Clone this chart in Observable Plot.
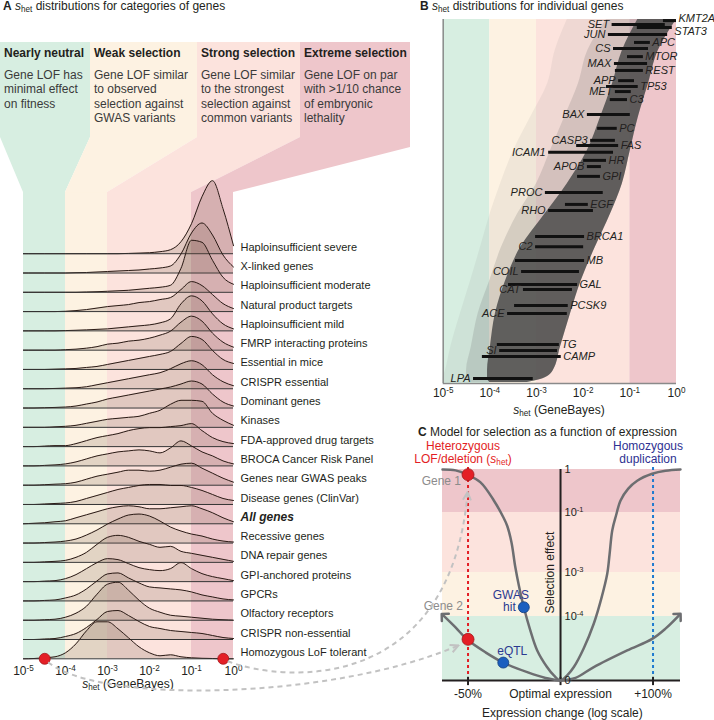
<!DOCTYPE html>
<html><head><meta charset="utf-8">
<script src="https://cdn.jsdelivr.net/npm/d3@7"></script>
<script src="https://cdn.jsdelivr.net/npm/@observablehq/plot@0.6"></script>
<style>
html,body{margin:0;padding:0;background:#fff;}
#fig{position:relative;width:714px;height:720px;overflow:hidden;font-family:"Liberation Sans",Arial,Helvetica,sans-serif;color:#231f20;}
#fig .t{position:absolute;white-space:nowrap;font-size:12px;line-height:14px;z-index:2;}
#fig sub{font-size:0.68em;vertical-align:-0.3em;line-height:0;}
#fig .hd{font-weight:bold;}
#fig .bd{color:#3a3a3a;line-height:14.4px;}
</style></head>
<body><div id="fig"></div>
<script>
// ================= DATA =================
const bandNames = ["Nearly neutral","Weak selection","Strong selection","Extreme selection"];
const bandDescriptions = [
  ["Gene LOF has","minimal effect","on fitness"],
  ["Gene LOF similar","to observed","selection against","GWAS variants"],
  ["Gene LOF similar","to the strongest","selection against","common variants"],
  ["Gene LOF on par","with >1/10 chance","of embryonic","lethality"]
];
const bandLogStart = [-5,-4,-3,-1];
const bandLogEnd   = [-4,-3,-1,0];
const bandColors   = ["#d7eee1","#fdf2e2","#fce3dd","#eec6cb"];

// Panel A: ridgelines (height of each density above its baseline)
const categories = ["Haploinsufficient severe","X-linked genes","Haploinsufficient moderate","Natural product targets","Haploinsufficient mild","FMRP interacting proteins","Essential in mice","CRISPR essential","Dominant genes","Kinases","FDA-approved drug targets","BROCA Cancer Risk Panel","Genes near GWAS peaks","Disease genes (ClinVar)","All genes","Recessive genes","DNA repair genes","GPI-anchored proteins","GPCRs","Olfactory receptors","CRISPR non-essential","Homozygous LoF tolerant"];
const logGrid = [-5,-4.75,-4.5,-4.25,-4,-3.75,-3.5,-3.25,-3,-2.75,-2.5,-2.25,-2,-1.75,-1.5,-1.25,-1,-0.75,-0.5,-0.25,0];
const ridgeHeights = [
  [0,0,0,0,0,0,0,0,0,0,0.3,0.6,1,2,4,12,30,57,73,45,8],
  [0,0,0,0,0,0.3,0.5,1,1.5,2,2.5,3,4,5,7,19,40,50,38,18,6],
  [0,0,0,0,0,0,0.3,0.6,1,1.5,2,3,4,5,7,24,52,50,32,15,8],
  [0,0,0,0,0.3,1,2,3.5,5,6,7,9,10,12,14,22,30,26,17,8,3],
  [0,0,0,0,0.3,0.6,1,1.5,2,3,4,5,6,8,12,27,35,30,17,7,2],
  [0,0,0,0,0.5,1,2,3.5,6,7,9,10,12,15,19,28,34,29,17,8,3],
  [0,0,0,0.3,0.6,1,2,3,5,7,9,11,13,15,18,26,33,30,19,10,6],
  [0,0,0,0.3,0.6,1,2,4,6,8,10,12,14,16,20,25,28,24,14,7,3],
  [0,0,0.3,0.6,1,2,4,6,9,11,13,15,17,19,21,24,27,24,14,6,2],
  [0,0,0,0.5,1,2,4,6,8,9,10,11,14,17,23,27,27,26,14,7,2],
  [0,0,0.5,1,1,3,6,9,11,13,16,18,19,19,20,21,23,16,9,5,3],
  [0,0,0.5,1,2,4,7,10,12,14,15,16,15,13,18,25,20,14,10,5,2],
  [0,0,0.5,1,1.5,3,6,9,11,13,15,15,14,15,18,21,22,17,12,7,3],
  [0,0,0.5,1,1.5,3,6,9,12,15,17,19,20,20,19,19,17,14,10,6,4],
  [0,0.5,1,2,3,6,9,12,15,17,18,17,15,15,16,17,18,15,11,6,2],
  [0,0,0.5,1,2,4,8,13,19,24,28,29,27,22,16,12,9,7,4,2,1],
  [0,0,0.5,1,2,5,10,18,25,27,25,21,18,15,16,11,9,7,5,3,1],
  [0,0,0.5,1,3,7,13,19,23,22,18,14,12,11,13,19,13,8,5,3,1],
  [0,0,0.5,1,3,6,12,20,27,28,23,18,14,13,12,11,9,6,4,2,1],
  [0,0,0.5,1,3,7,14,26,36,38,30,20,12,8,5,4,3,2,1,0.5,0],
  [0,0,0.5,1,3,6,12,20,28,29,24,18,13,11,9,8,7,6,4,2,1],
  [0,0.3,1,2,6,15,28,37,37,30,21,12,6,3,4,2,1,0.5,0.3,0,0]
];
const axisTicksLog = [-5,-4,-3,-2,-1,0];
const exampleGenes = ["Gene 1","Gene 2"];
const exampleShetA = [0.57, 3.2e-5];

// Panel B: individual genes (log10 s_het interval, percentile rank of gene)
const geneNames = ["KMT2A","SET","STAT3","JUN","APC","CS","MTOR","MAX","REST","APP","TP53","MET","C3","BAX","PC","CASP3","FAS","ICAM1","HR","APOB","GPI","PROC","EGF","RHO","BRCA1","C2","MB","COIL","GAL","CAT","PCSK9","ACE","TG","SI","CAMP","LPA"];
const geneLo = [-0.28,-1.38,-0.84,-1.46,-0.90,-1.35,-1.05,-1.33,-1.31,-1.24,-1.50,-1.31,-1.42,-1.91,-1.69,-1.84,-2.14,-2.74,-1.99,-1.91,-2.12,-2.81,-2.38,-2.74,-3.02,-3.02,-3.45,-3.32,-3.60,-3.28,-3.47,-3.62,-3.84,-3.79,-4.16,-4.35];
const geneHi = [0,-0.24,-0.09,-0.19,-0.56,-0.60,-0.71,-0.62,-0.71,-0.90,-0.82,-0.97,-1.05,-0.99,-1.27,-1.31,-1.24,-1.35,-1.50,-1.61,-1.63,-1.57,-1.89,-1.78,-1.97,-1.99,-1.97,-2.08,-2.12,-2.23,-2.32,-2.34,-2.51,-2.55,-2.47,-3.07];
const geneRank = [99.7,98.6,97.8,95.9,93.7,92.0,89.8,87.9,86.0,83.2,81.6,80.2,78.0,73.9,70.1,66.8,65.4,63.5,61.3,59.6,56.9,52.5,49.2,47.5,40.4,37.6,33.8,30.8,27.2,25.8,21.4,19.2,10.7,9.1,7.4,1.4];
const geneSide = ["right","left","right","left","right","left","right","left","right","left","right","left","right","left","right","left","right","left","right","left","right","left","right","left","right","left","right","left","right","left","right","left","right","left","right","left"];
const geneLabelRank = [100.3,98.6,96.6,95.9,93.7,92.0,89.8,87.9,86.0,83.2,81.6,80.2,78.0,73.9,70.1,66.8,65.4,63.5,61.3,59.6,56.9,52.5,49.2,47.5,40.4,37.6,33.8,30.8,27.2,25.8,21.4,19.2,10.7,9.1,7.4,1.4];
// envelope of all genes' intervals (log10 s_het) by rank
const cloudRank      = [0.3,1.4,3.6,9.9,19.2,28.3,37.4,46.7,54.9,64,73.1,82.4,91.5,100];
const cloudRight     = [-3.2,-2.85,-2.64,-2.49,-2.27,-2.04,-1.74,-1.41,-1.16,-0.99,-0.82,-0.6,-0.39,0];
const cloudCoreLeft  = [-4.0,-4.05,-4.05,-3.99,-3.88,-3.66,-3.34,-2.81,-2.34,-1.91,-1.63,-1.37,-1.16,-0.83];
const cloudMidLeft   = [-4.4,-4.5,-4.5,-4.4,-4.25,-4.0,-3.75,-3.4,-3.0,-2.7,-2.4,-2.1,-1.9,-1.5];
const cloudFaintLeft = [-5,-5,-4.95,-4.84,-4.63,-4.41,-4.2,-3.99,-3.77,-3.49,-3.13,-2.76,-2.6,-2.34];

// Panel C: model (x = log2 expression change, y = log10 selection; -5 stands for 0)
const g1Log2  = [-1.276,-1.135,-1.009,-0.865,-0.721,-0.62,-0.576,-0.53,-0.49,-0.45,-0.397,-0.33,-0.252,-0.15,-0.072,0,0.072,0.144,0.25,0.36,0.44,0.505,0.53,0.559,0.6,0.649,0.73,0.829,0.991,1.135,1.297];
const g1Level = [0,-0.02,-0.12,-0.3,-0.72,-1.15,-1.45,-2.0,-2.8,-3.3,-3.79,-4.2,-4.53,-4.78,-4.92,-5,-4.92,-4.79,-4.5,-4.11,-3.6,-3.03,-2.4,-1.6,-1.1,-0.72,-0.45,-0.26,-0.1,-0.03,0];
const g2Log2  = [-1.265,-1.135,-1.009,-0.811,-0.619,-0.36,-0.162,0,0.162,0.36,0.721,0.991,1.135,1.279];
const g2Level = [-3.98,-4.17,-4.36,-4.56,-4.72,-4.87,-4.96,-5,-4.96,-4.79,-4.53,-4.35,-4.19,-3.98];
const exampleSelC = [0.76, 4.4e-5];
const variantNames = ["GWAS hit","eQTL"];
const variantLog2  = [-0.397,-0.619];
const variantLevel = [-3.79,-4.72];
const yTicksC = [0,-1,-3,-4,-5];
const yTickLabelsC = ["1","10^-1","10^-3","10^-4","0"];
const xTicksC = [-1,0,1];
const xTickLabelsC = ["-50%","Optimal expression","+100%"];

// ================= HELPERS =================
const NS = "http://www.w3.org/2000/svg";
const fig = document.getElementById("fig");
const FONT = '"Liberation Sans",Arial,Helvetica,sans-serif';
const plotStyle = {background:"transparent", overflow:"visible", fontFamily:FONT, color:"#231f20"};
function addDiv(html, left, top, cls, extra){
  const d = document.createElement("div");
  d.className = "t " + (cls||"");
  d.innerHTML = html;
  d.style.left = left + "px"; d.style.top = top + "px";
  if (extra) Object.assign(d.style, extra);
  fig.appendChild(d); return d;
}
function centerDiv(html, cx, top, extra){
  return addDiv(html, cx-150, top, "", Object.assign({width:"300px", textAlign:"center"}, extra||{}));
}
function placeSvg(svg, left, top, z){
  svg.style.position = "absolute"; svg.style.left = left+"px"; svg.style.top = top+"px";
  svg.style.zIndex = z; fig.appendChild(svg);
}
function supify(svg){
  svg.querySelectorAll("text").forEach(t=>{
    const m = /^10\^(-?\d+)$/.exec(t.textContent);
    if (!m) return;
    t.textContent = "10";
    const s = document.createElementNS(NS,"tspan");
    s.setAttribute("dy","-0.5em"); s.setAttribute("font-size","0.68em");
    s.textContent = m[1];
    t.appendChild(s);
  });
}

// ================= PANEL A =================
const A_LEFT = 0, A_TOP = 150;
const nRows = categories.length;
const rowGap = 19.29;
const baseOf = i => (nRows-1-i)*rowGap;
const marksA = [];
bandLogStart.forEach((s,k)=>marksA.push(Plot.rect([k],{x1:s,x2:bandLogEnd[k],y1:0,y2:466,fill:bandColors[k]})));
categories.forEach((c,i)=>{
  const b = baseOf(i);
  const pts = logGrid.map((L,j)=>({L, b, t: b + ridgeHeights[i][j]}));
  marksA.push(Plot.areaY(pts,{x:"L",y1:"b",y2:"t",fill:"#6b4f3f",fillOpacity:0.18,curve:"monotone-x"}));
  marksA.push(Plot.lineY(pts,{x:"L",y:"t",stroke:"#2b1b16",strokeWidth:1,curve:"monotone-x"}));
  marksA.push(Plot.ruleY([b],{x1:-5,x2:0,stroke:"#333",strokeWidth:1}));
});
const rowIdx = d3.range(nRows);
marksA.push(Plot.text(rowIdx.filter(i=>categories[i]!=="All genes"),{x:0,y:i=>baseOf(i),text:i=>categories[i],dx:7,dy:-6.5,textAnchor:"start",fontSize:11}));
marksA.push(Plot.text(rowIdx.filter(i=>categories[i]==="All genes"),{x:0,y:i=>baseOf(i),text:i=>categories[i],dx:7,dy:-6.5,textAnchor:"start",fontSize:12,fontWeight:"bold",fontStyle:"italic"}));
marksA.push(Plot.dot(exampleShetA,{x:d=>Math.log10(d),y:0,r:5.5,fill:"#e41f26",stroke:"#a3161b",strokeWidth:0.8}));
marksA.push(Plot.text(axisTicksLog,{x:d=>d,y:0,dy:12.5,text:d=>"10^"+d,fontSize:12}));
const plotA = Plot.plot({
  width:360, height:540, marginLeft:23, marginRight:127, marginTop:8.3, marginBottom:31.7,
  x:{domain:[-5,0], axis:null}, y:{domain:[0,500], axis:null},
  style:plotStyle, marks:marksA
});
supify(plotA);
placeSvg(plotA, A_LEFT, A_TOP, 1);

// header boxes + funnel (background)
const xA = plotA.scale("x"), yA = plotA.scale("y");
const headerLeft = [0,90,197,300], headerRight = [90,197,300,410], headerBottomRight = [137,137,137,147];
const bg = d3.create("svg").attr("width",714).attr("height",720);
bandNames.forEach((n,k)=>{
  const bl = A_LEFT + xA.apply(bandLogStart[k]), br = A_LEFT + xA.apply(bandLogEnd[k]);
  const pts = [[headerLeft[k],42],[headerRight[k],42],[headerRight[k],headerBottomRight[k]],[br,192],[br,202],[bl,202],[bl,192],[headerLeft[k],137]];
  bg.append("polygon").attr("points", pts.map(p=>p.join(",")).join(" ")).attr("fill", bandColors[k]);
});
placeSvg(bg.node(), 0, 0, 0);
bandNames.forEach((n,k)=>{
  addDiv(n, headerLeft[k]+4, 46, "hd");
  addDiv(bandDescriptions[k].join("<br>"), headerLeft[k]+4, 68, "bd");
});
addDiv('<b>A</b> <i>s</i><sub>het</sub> distributions for categories of genes', 3, -1);
centerDiv('<i>s</i><sub>het</sub> (GeneBayes)', 128, 677);

// ================= PANEL B =================
const B_LEFT = 360, B_TOP = 0;
const geneIdx = d3.range(geneNames.length);
const cloud = cloudRank.map((r,i)=>({r, right:cloudRight[i], core:cloudCoreLeft[i], mid:cloudMidLeft[i], faint:cloudFaintLeft[i]}));
const marksB = [];
bandLogStart.forEach((s,k)=>marksB.push(Plot.rect([k],{x1:s,x2:bandLogEnd[k],y1:0,y2:100,fill:bandColors[k]})));
marksB.push(Plot.areaX(cloud,{y:"r",x1:"faint",x2:"right",fill:"#808080",fillOpacity:0.1,curve:"monotone-y"}));
marksB.push(Plot.areaX(cloud,{y:"r",x1:"mid",x2:"right",fill:"#6a6a6a",fillOpacity:0.2,curve:"monotone-y"}));
marksB.push(Plot.areaX(cloud,{y:"r",x1:"core",x2:"right",fill:"#4b4b4b",fillOpacity:0.85,curve:"monotone-y"}));
marksB.push(Plot.ruleX([-5],{stroke:"#8a8a8a",strokeWidth:1.5}));
marksB.push(Plot.ruleY([0],{stroke:"#8a8a8a",strokeWidth:1.5}));
marksB.push(Plot.ruleY(geneIdx,{y:i=>geneRank[i],x1:i=>geneLo[i],x2:i=>geneHi[i],stroke:"#111",strokeWidth:3}));
marksB.push(Plot.text(geneIdx.filter(i=>geneSide[i]==="left"),{x:i=>geneLo[i],y:i=>geneLabelRank[i],text:i=>geneNames[i],dx:-3,textAnchor:"end",fontSize:11,fontStyle:"italic"}));
marksB.push(Plot.text(geneIdx.filter(i=>geneSide[i]==="right"),{x:i=>geneHi[i],y:i=>geneLabelRank[i],text:i=>geneNames[i],dx:2,textAnchor:"start",fontSize:11,fontStyle:"italic"}));
marksB.push(Plot.text(axisTicksLog,{x:d=>d,y:0,dy:10,text:d=>"10^"+d,fontSize:12}));
const plotB = Plot.plot({
  width:354, height:420, marginLeft:82.7, marginRight:38, marginTop:19, marginBottom:37,
  x:{domain:[-5,0], axis:null}, y:{domain:[0,100], axis:null},
  style:plotStyle, marks:marksB
});
supify(plotB);
placeSvg(plotB, B_LEFT, B_TOP, 1);
addDiv('<b>B</b> <i>s</i><sub>het</sub> distributions for individual genes', 420, -1);
centerDiv('<i>s</i><sub>het</sub> (GeneBayes)', 559, 403);

// ================= PANEL C =================
const C_LEFT = 360, C_TOP = 440;
// schematic selection axis: piecewise positions of the tick levels (px above the x axis)
const lp = d3.scaleLinear().domain([-5,-4,-3,-1,0]).range([0,64,108,168,211]);
const g1 = g1Log2.map((x,i)=>({x, y:g1Level[i]}));
const g2 = [];
for (let i=7;i>=0;i--) g2.push({x:g2Log2[i], y:g2Level[i], branch:"left"});
for (let i=7;i<g2Log2.length;i++) g2.push({x:g2Log2[i], y:g2Level[i], branch:"right"});
const xDomC = [-1.276, 1.297];
const marksC = [];
bandLogStart.forEach((s,k)=>marksC.push(Plot.rect([k],{x1:xDomC[0],x2:xDomC[1],y1:lp(s),y2:lp(bandLogEnd[k]),fill:bandColors[k]})));
marksC.push(Plot.ruleX([-1],{y1:lp(-5),y2:lp(0.07),stroke:"#e31e24",strokeWidth:2,strokeDasharray:"3,3"}));
marksC.push(Plot.ruleX([1],{y1:lp(-5),y2:lp(0.07),stroke:"#1f7bd0",strokeWidth:2,strokeDasharray:"3,3"}));
marksC.push(Plot.ruleX([0],{y1:lp(-5),y2:lp(0),stroke:"#231f20",strokeWidth:2}));
marksC.push(Plot.ruleY([lp(-5)],{x1:xDomC[0],x2:xDomC[1],stroke:"#231f20",strokeWidth:2}));
marksC.push(Plot.ruleX(xTicksC,{y1:lp(-5.08),y2:lp(-4.95),stroke:"#231f20",strokeWidth:2}));
marksC.push(Plot.line(g1,{x:"x",y:d=>lp(d.y),stroke:"#6d6e71",strokeWidth:2.5,curve:"catmull-rom"}));
marksC.push(Plot.line(g2,{x:"x",y:d=>lp(d.y),z:"branch",stroke:"#6d6e71",strokeWidth:2.5,curve:"catmull-rom",markerEnd:"arrow"}));
marksC.push(Plot.dot(exampleSelC,{x:-1,y:d=>lp(Math.log10(d)),r:6,fill:"#e41f26",stroke:"#a3161b",strokeWidth:0.8}));
marksC.push(Plot.dot(d3.range(2),{x:i=>variantLog2[i],y:i=>lp(variantLevel[i]),r:5.5,fill:"#1b5fbf",stroke:"#15407e",strokeWidth:0.8}));
marksC.push(Plot.text([0],{x:-1,y:lp(Math.log10(exampleSelC[0])),text:()=>exampleGenes[0],dx:-7,dy:7,textAnchor:"end",fill:"#8c8c8c",fontSize:12}));
marksC.push(Plot.text([1],{x:-1,y:lp(Math.log10(exampleSelC[1])),text:()=>exampleGenes[1],dx:-5,dy:-33,textAnchor:"end",fill:"#8c8c8c",fontSize:12}));
marksC.push(Plot.text([0],{x:variantLog2[0],y:lp(variantLevel[0]),text:()=>"GWAS",dx:-13,dy:-12.5,fill:"#2b3990",fontSize:12}));
marksC.push(Plot.text([0],{x:variantLog2[0],y:lp(variantLevel[0]),text:()=>"hit",dx:-8,dy:0,textAnchor:"end",fill:"#2b3990",fontSize:12}));
marksC.push(Plot.text([1],{x:variantLog2[1],y:lp(variantLevel[1]),text:()=>variantNames[1],dx:9,dy:-11,fill:"#2b3990",fontSize:12}));
marksC.push(Plot.text(yTicksC,{x:0,y:d=>lp(d),text:(d,i)=>yTickLabelsC[i],dx:4,textAnchor:"start",fontSize:11}));
marksC.push(Plot.text(xTicksC,{x:d=>d,y:lp(-5),text:(d,i)=>xTickLabelsC[i],dy:14,fontSize:12}));
marksC.push(Plot.text(["Expression change (log scale)"],{x:0.02,y:lp(-5),text:d=>d,dy:33,fontSize:12}));
marksC.push(Plot.text(["Selection effect"],{x:0,y:lp(-3),text:d=>d,dx:-10,rotate:-90,fontSize:12}));
const plotC = Plot.plot({
  width:354, height:280, marginLeft:82, marginRight:34, marginTop:29, marginBottom:40,
  x:{domain:xDomC, axis:null},
  y:{domain:[0,211], axis:null},
  style:plotStyle, marks:marksC
});
supify(plotC);
placeSvg(plotC, C_LEFT, C_TOP, 1);
addDiv('<b>C</b> Model for selection as a function of expression', 418, 425);
centerDiv('Heterozygous<br>LOF/deletion (<i>s</i><sub>het</sub>)', 463, 440, {color:"#e31e24", lineHeight:"13px"});
centerDiv('Homozygous<br>duplication', 648, 440, {color:"#2e3192", lineHeight:"13px"});

// ================= CONNECTORS =================
const xC = plotC.scale("x"), yC = plotC.scale("y");
const aG1 = [A_LEFT + xA.apply(Math.log10(exampleShetA[0])), A_TOP + yA.apply(0)];
const aG2 = [A_LEFT + xA.apply(Math.log10(exampleShetA[1])), A_TOP + yA.apply(0)];
const cG1 = [C_LEFT + xC.apply(-1), C_TOP + yC.apply(lp(Math.log10(exampleSelC[0])))];
const cG2 = [C_LEFT + xC.apply(-1), C_TOP + yC.apply(lp(Math.log10(exampleSelC[1])))];
const ov = d3.create("svg").attr("width",714).attr("height",720).style("pointer-events","none");
ov.append("defs").append("marker").attr("id","ah").attr("viewBox","0 0 10 10").attr("refX",8).attr("refY",5)
  .attr("markerWidth",10).attr("markerHeight",10).attr("markerUnits","userSpaceOnUse").attr("orient","auto")
  .append("path").attr("d","M1,1L9,5L1,9").attr("fill","none").attr("stroke","#c2c2c2").attr("stroke-width",2);
const p1 = d3.path();
p1.moveTo(aG2[0]+4, aG2[1]+4);
p1.bezierCurveTo(aG2[0]+56, aG2[1]+46, cG2[0]-137, cG2[1]+61, cG2[0]-10, cG2[1]+7);
const p2 = d3.path();
p2.moveTo(aG1[0]+5, aG1[1]+3);
p2.bezierCurveTo(aG1[0]+67, aG1[1]+26, cG1[0]-17, cG1[1]+216, cG1[0], cG1[1]+19);
[p1,p2].forEach(p=>ov.append("path").attr("d",p.toString()).attr("fill","none").attr("stroke","#c2c2c2")
  .attr("stroke-width",2).attr("stroke-dasharray","5,4").attr("marker-end","url(#ah)"));
placeSvg(ov.node(), 0, 0, 3);
</script></body></html>
